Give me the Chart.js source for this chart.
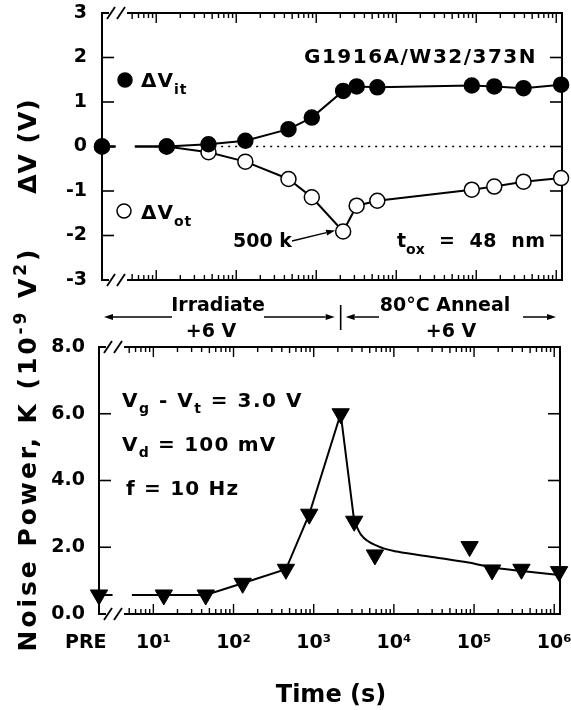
<!DOCTYPE html>
<html>
<head>
<meta charset="utf-8">
<title>ΔV and noise power versus time</title>
<script src="https://cdn.jsdelivr.net/npm/chart.js@4.4.1/dist/chart.umd.min.js"></script>
<style>
  html, body { margin: 0; padding: 0; background: #fff; }
  #wrap { position: relative; width: 571px; height: 710px; overflow: hidden; background: #fff; }
  #wrap canvas { position: absolute; left: 0; }
</style>
</head>
<body>
<div id="wrap">
  <canvas id="topChart" width="571" height="300" style="top:0px;width:571px;height:300px"></canvas>
  <canvas id="botChart" width="571" height="470" style="top:240px;width:571px;height:470px"></canvas>
</div>
<script>
// ---------------- data ----------------
// measurement times (s) after the pre-irradiation (PRE) measurement
const times = [13.5, 45, 130, 450, 880, 2170, 3200, 5800, 88000, 168000, 390000, 1150000];
// top panel: threshold-voltage shift components (V)
const preIt = 0;
const dVit  = [0, 0.05, 0.13, 0.39, 0.65, 1.25, 1.35, 1.33, 1.37, 1.35, 1.31, 1.39];
const preOt = 0;
const dVot  = [0, -0.13, -0.34, -0.73, -1.14, -1.91, -1.33, -1.22, -0.97, -0.90, -0.79, -0.71];
// bottom panel: noise power K (1e-9 V^2)
const preK   = 0.57;
const noiseK = [0.57, 0.57, 0.92, 1.34, 2.99, 6.0, 2.78, 1.77, 2.02, 1.32, 1.34, 1.27];
// drawn trend curve through the anneal data
const fitTimes = [3200, 3900, 6500, 11000, 32000, 85000, 165000, 420000, 1150000];
const fitK     = [2.78, 2.37, 2.02, 1.87, 1.70, 1.54, 1.40, 1.28, 1.17];
// dotted zero reference (time extent)
const zeroFrom = 53, zeroTo = 730000;
// axes
const TIME_MIN = 2.1, TIME_MAX = 1.18e6;   // log time axis; PRE sits at its left edge
const PRE_TIME = TIME_MIN;
const LINE_BREAK_FROM = 3.1, LINE_BREAK_TO = 5.4; // axis break (//) in the data lines
const TICK_START = 5;
const xTickValues = [PRE_TIME, 10, 100, 1000, 10000, 100000, 1000000];
const xTickLabels = ['PRE', '10¹', '10²', '10³', '10⁴', '10⁵', '10⁶'];
const yTopTicks = [-3, -2, -1, 0, 1, 2, 3];
const yBotTicks = [0, 2, 4, 6, 8];
const IRRADIATION_END = times[5];

// ---------------- styling helpers ----------------
const INK = '#000';
const FONT = '"DejaVu Sans", "Liberation Sans", Arial, sans-serif';
const TOP_OFFSET = 240; // page y of bottom canvas

function richWidth(ctx, parts, ls) {
  let w = 0;
  for (const p of parts) {
    ctx.font = `bold ${p.s}px ${FONT}`;
    ctx.letterSpacing = (p.ls !== undefined ? p.ls : ls) + 'px';
    w += ctx.measureText(p.t).width;
  }
  return w;
}
function rich(ctx, x, y, parts, opt = {}) {
  ctx.save();
  ctx.fillStyle = INK;
  ctx.textBaseline = 'alphabetic';
  ctx.textAlign = 'left';
  let ls = opt.ls || 0;
  if (opt.fit) {
    const w0 = richWidth(ctx, parts, 0);
    const n = parts.reduce((a, p) => a + p.t.length, 0);
    ls = (opt.fit - w0) / n;
  }
  const total = richWidth(ctx, parts, ls);
  let cx = x;
  if (opt.align === 'center') cx = x - total / 2;
  if (opt.align === 'right') cx = x - total;
  for (const p of parts) {
    ctx.font = `bold ${p.s}px ${FONT}`;
    ctx.letterSpacing = (p.ls !== undefined ? p.ls : ls) + 'px';
    ctx.fillText(p.t, cx, y + (p.dy || 0));
    cx += ctx.measureText(p.t).width;
  }
  ctx.restore();
}
function vTitle(ctx, cx, cy, parts, opt) {
  ctx.save();
  ctx.translate(cx, cy);
  ctx.rotate(-Math.PI / 2);
  rich(ctx, 0, opt.capHalf, parts, Object.assign({ align: 'center' }, opt));
  ctx.restore();
}
function seg(ctx, x1, y1, x2, y2) {
  ctx.beginPath(); ctx.moveTo(x1, y1); ctx.lineTo(x2, y2); ctx.stroke();
}
function arrow(ctx, x1, y1, x2, y2, head = 9, half = 3) {
  ctx.save();
  ctx.strokeStyle = INK; ctx.fillStyle = INK; ctx.lineWidth = 1.5;
  const a = Math.atan2(y2 - y1, x2 - x1);
  const bx = x2 - head * Math.cos(a), by = y2 - head * Math.sin(a);
  seg(ctx, x1, y1, bx, by);
  ctx.beginPath();
  ctx.moveTo(x2, y2);
  ctx.lineTo(bx + half * Math.sin(a), by - half * Math.cos(a));
  ctx.lineTo(bx - half * Math.sin(a), by + half * Math.cos(a));
  ctx.closePath(); ctx.fill();
  ctx.restore();
}
function marker(ctx, x, y, r, filled) {
  ctx.save();
  ctx.beginPath(); ctx.arc(x, y, r, 0, Math.PI * 2);
  ctx.fillStyle = filled ? INK : '#fff'; ctx.fill();
  ctx.strokeStyle = INK; ctx.lineWidth = 1.5; ctx.stroke();
  ctx.restore();
}

// frame with axis break, inward ticks
function makeFramePlugin(id, yTicks) {
  return {
    id,
    beforeDatasetsDraw(chart) {
      const { ctx, chartArea } = chart;
      const L = chartArea.left, R = chartArea.right, T = chartArea.top, B = chartArea.bottom;
      const xs = chart.scales.x, ys = chart.scales.y;
      ctx.save();
      ctx.strokeStyle = INK; ctx.lineWidth = 2; ctx.lineCap = 'butt';
      seg(ctx, L, T - 1, L, B + 1);
      seg(ctx, R, T - 1, R, B + 1);
      for (const y of [T, B]) {
        seg(ctx, L, y, L + 7, y);
        seg(ctx, L + 25, y, R, y);
        ctx.lineWidth = 1.8;
        seg(ctx, L + 5, y + 6, L + 13, y - 6);
        seg(ctx, L + 15, y + 6, L + 23, y - 6);
        ctx.lineWidth = 2;
      }
      ctx.lineWidth = 1.4;
      for (let d = 0; d <= 6; d++) {
        for (let m = 1; m <= 9; m++) {
          const v = m * Math.pow(10, d);
          if (v < TICK_START || v > TIME_MAX) continue;
          const px = xs.getPixelForValue(v);
          const len = m === 1 ? 10 : (m === 5 ? 6 : 5);
          seg(ctx, px, T, px, T + len);
          seg(ctx, px, B, px, B - len);
        }
      }
      ctx.lineWidth = 1.6;
      for (const v of yTicks) {
        if (v <= ys.min || v >= ys.max) continue;
        const py = ys.getPixelForValue(v);
        seg(ctx, L, py, L + 12, py);
        seg(ctx, R, py, R - 12, py);
      }
      ctx.restore();
    }
  };
}

const tickFont = { family: FONT, size: 19, weight: 'bold' };
const xTickFont = { family: FONT, size: 19, weight: 'bold' };
function noPad(s) { s.paddingLeft = 0; s.paddingRight = 0; s.paddingTop = 0; s.paddingBottom = 0; }

// ---------------- top chart ----------------
const itMarkers = [{ x: PRE_TIME, y: preIt }].concat(times.map((t, i) => ({ x: t, y: dVit[i] })));
const otMarkers = [{ x: PRE_TIME, y: preOt }].concat(times.map((t, i) => ({ x: t, y: dVot[i] })));
function withBreak(preVal, firstVal, rest) {
  return [
    { x: PRE_TIME, y: preVal }, { x: LINE_BREAK_FROM, y: preVal },
    { x: LINE_BREAK_FROM, y: null },
    { x: LINE_BREAK_TO, y: firstVal }
  ].concat(rest);
}
const itLine = withBreak(preIt, dVit[0], times.map((t, i) => ({ x: t, y: dVit[i] })));
const otLine = withBreak(preOt, dVot[0], times.map((t, i) => ({ x: t, y: dVot[i] })));

const topText = {
  id: 'topText',
  afterDraw(chart) {
    const ctx = chart.ctx;
    const xs = chart.scales.x, ys = chart.scales.y;
    rich(ctx, 304, 63, [{ t: 'G1916A/W32/373N', s: 20 }], { fit: 233 });
    marker(ctx, 125, 80, 7, true);
    rich(ctx, 141, 87, [{ t: 'ΔV', s: 20 }, { t: 'it', s: 14, dy: 7 }], { ls: 1 });
    marker(ctx, 124, 211, 7, false);
    rich(ctx, 141, 219, [{ t: 'ΔV', s: 20 }, { t: 'ot', s: 14, dy: 7 }], { ls: 1 });
    rich(ctx, 233, 247, [{ t: '500 k', s: 19 }]);
    const px = xs.getPixelForValue(times[5]), py = ys.getPixelForValue(dVot[5]);
    arrow(ctx, 292, 241, px - 8, py - 1);
    rich(ctx, 397, 247, [{ t: 't', s: 19, ls: 0 }, { t: 'ox', s: 14, dy: 7, ls: 0 }, { t: '  =  48  nm', s: 19, ls: 0.5 }]);
    vTitle(ctx, 27, 146, [{ t: 'ΔV (V)', s: 25 }], { capHalf: 9, ls: 1 });
  }
};

new Chart(document.getElementById('topChart'), {
  type: 'scatter',
  data: {
    datasets: [
      { label: 'ΔVit', data: itMarkers, showLine: false, pointStyle: 'circle', pointRadius: 7.5,
        pointBackgroundColor: INK, pointBorderColor: INK, pointBorderWidth: 1.5, clip: false, order: 0 },
      { label: 'ΔVot', data: otMarkers, showLine: false, pointStyle: 'circle', pointRadius: 7.5,
        pointBackgroundColor: '#fff', pointBorderColor: INK, pointBorderWidth: 1.5, clip: false, order: 1 },
      { label: 'ΔVit line', data: itLine, showLine: true, pointRadius: 0, borderColor: INK, borderWidth: 2,
        spanGaps: false, clip: false, order: 2 },
      { label: 'ΔVot line', data: otLine, showLine: true, pointRadius: 0, borderColor: INK, borderWidth: 2,
        spanGaps: false, clip: false, order: 3 },
      { label: 'zero', data: [{ x: zeroFrom, y: 0 }, { x: zeroTo, y: 0 }], showLine: true, pointRadius: 0,
        borderColor: INK, borderWidth: 1.6, borderDash: [2, 5], order: 4 }
    ]
  },
  options: {
    responsive: false, animation: false, devicePixelRatio: 1,
    layout: { padding: { left: 0, right: 9, top: 13, bottom: 20 } },
    plugins: { legend: { display: false }, tooltip: { enabled: false } },
    scales: {
      x: { type: 'logarithmic', min: TIME_MIN, max: TIME_MAX, display: false },
      y: {
        type: 'linear', min: -3, max: 3,
        afterBuildTicks: s => { s.ticks = yTopTicks.map(v => ({ value: v })); },
        afterFit: s => { s.width = 102; noPad(s); },
        grid: { display: false, drawTicks: false }, border: { display: false },
        ticks: { color: INK, font: tickFont, padding: 15, callback: v => String(v) }
      }
    }
  },
  plugins: [makeFramePlugin('topFrame', yTopTicks), topText]
});

// ---------------- bottom chart ----------------
const kMarkers = [{ x: PRE_TIME, y: preK }].concat(times.map((t, i) => ({ x: t, y: noiseK[i] })));
const kLine = withBreak(preK, noiseK[0], times.slice(0, 7).map((t, i) => ({ x: t, y: noiseK[i] })));
const kFit = fitTimes.map((t, i) => ({ x: t, y: fitK[i] }));

const botText = {
  id: 'botText',
  afterDraw(chart) {
    const ctx = chart.ctx;
    const xs = chart.scales.x;
    ctx.save();
    ctx.translate(0, -TOP_OFFSET);
    // annotations
    rich(ctx, 122, 407, [{ t: 'V', s: 20 }, { t: 'g', s: 14, dy: 6 }, { t: ' - V', s: 20 }, { t: 't', s: 14, dy: 6 },
      { t: ' = 3.0 V', s: 20 }], { ls: 1.5 });
    rich(ctx, 122, 451, [{ t: 'V', s: 20 }, { t: 'd', s: 14, dy: 6 }, { t: ' = 100 mV', s: 20 }], { ls: 1.2 });
    rich(ctx, 126, 495, [{ t: 'f = 10 Hz', s: 20 }], { ls: 1.2 });
    // irradiation / anneal bands between panels
    const barX = xs.getPixelForValue(IRRADIATION_END);
    rich(ctx, 218, 311, [{ t: 'Irradiate', s: 19 }], { align: 'center' });
    rich(ctx, 211, 337, [{ t: '+6 V', s: 19 }], { align: 'center' });
    rich(ctx, 445, 311, [{ t: '80°C Anneal', s: 19 }], { align: 'center' });
    rich(ctx, 451, 337, [{ t: '+6 V', s: 19 }], { align: 'center' });
    arrow(ctx, 172, 317, 104, 317);
    arrow(ctx, 264, 317, barX - 6, 317);
    ctx.strokeStyle = INK; ctx.lineWidth = 1.6;
    seg(ctx, barX, 305, barX, 330);
    arrow(ctx, 379, 317, barX + 5, 317);
    arrow(ctx, 523, 317, 556, 317);
    // axis titles
    vTitle(ctx, 27, 449, [{ t: 'Noise Power, K (10', s: 25 }, { t: '-9', s: 17, dy: -10 }, { t: ' V', s: 25 },
      { t: '2', s: 17, dy: -10 }, { t: ')', s: 25 }], { capHalf: 9, fit: 405 });
    rich(ctx, 331, 702, [{ t: 'Time (s)', s: 24 }], { align: 'center' });
    ctx.restore();
  }
};

new Chart(document.getElementById('botChart'), {
  type: 'scatter',
  data: {
    datasets: [
      { label: 'K', data: kMarkers, showLine: false, pointStyle: 'triangle', pointRotation: 180, pointRadius: 10,
        pointBackgroundColor: INK, pointBorderColor: INK, pointBorderWidth: 1, clip: false, order: 0 },
      { label: 'K line', data: kLine, showLine: true, pointRadius: 0, borderColor: INK, borderWidth: 2,
        spanGaps: false, clip: false, order: 1 },
      { label: 'K trend', data: kFit, showLine: true, pointRadius: 0, borderColor: INK, borderWidth: 2,
        cubicInterpolationMode: 'monotone', clip: false, order: 2 }
    ]
  },
  options: {
    responsive: false, animation: false, devicePixelRatio: 1,
    layout: { padding: { left: 0, right: 11, top: 107, bottom: 0 } },
    plugins: { legend: { display: false }, tooltip: { enabled: false } },
    scales: {
      x: {
        type: 'logarithmic', min: TIME_MIN, max: TIME_MAX,
        afterBuildTicks: s => { s.ticks = xTickValues.map(v => ({ value: v })); },
        afterFit: s => { s.height = 96; noPad(s); },
        grid: { display: false, drawTicks: false }, border: { display: false },
        ticks: { color: INK, font: xTickFont, padding: 18, autoSkip: false, maxRotation: 0, minRotation: 0,
          callback: (v, i) => (i === 0 ? xTickLabels[i] + '    ' : xTickLabels[i]) }
      },
      y: {
        type: 'linear', min: 0, max: 8,
        afterBuildTicks: s => { s.ticks = yBotTicks.map(v => ({ value: v })); },
        afterFit: s => { s.width = 99; noPad(s); },
        grid: { display: false, drawTicks: false }, border: { display: false },
        ticks: { color: INK, font: tickFont, padding: 14, callback: v => v.toFixed(1) }
      }
    }
  },
  plugins: [makeFramePlugin('botFrame', yBotTicks), botText]
});
</script>
</body>
</html>
